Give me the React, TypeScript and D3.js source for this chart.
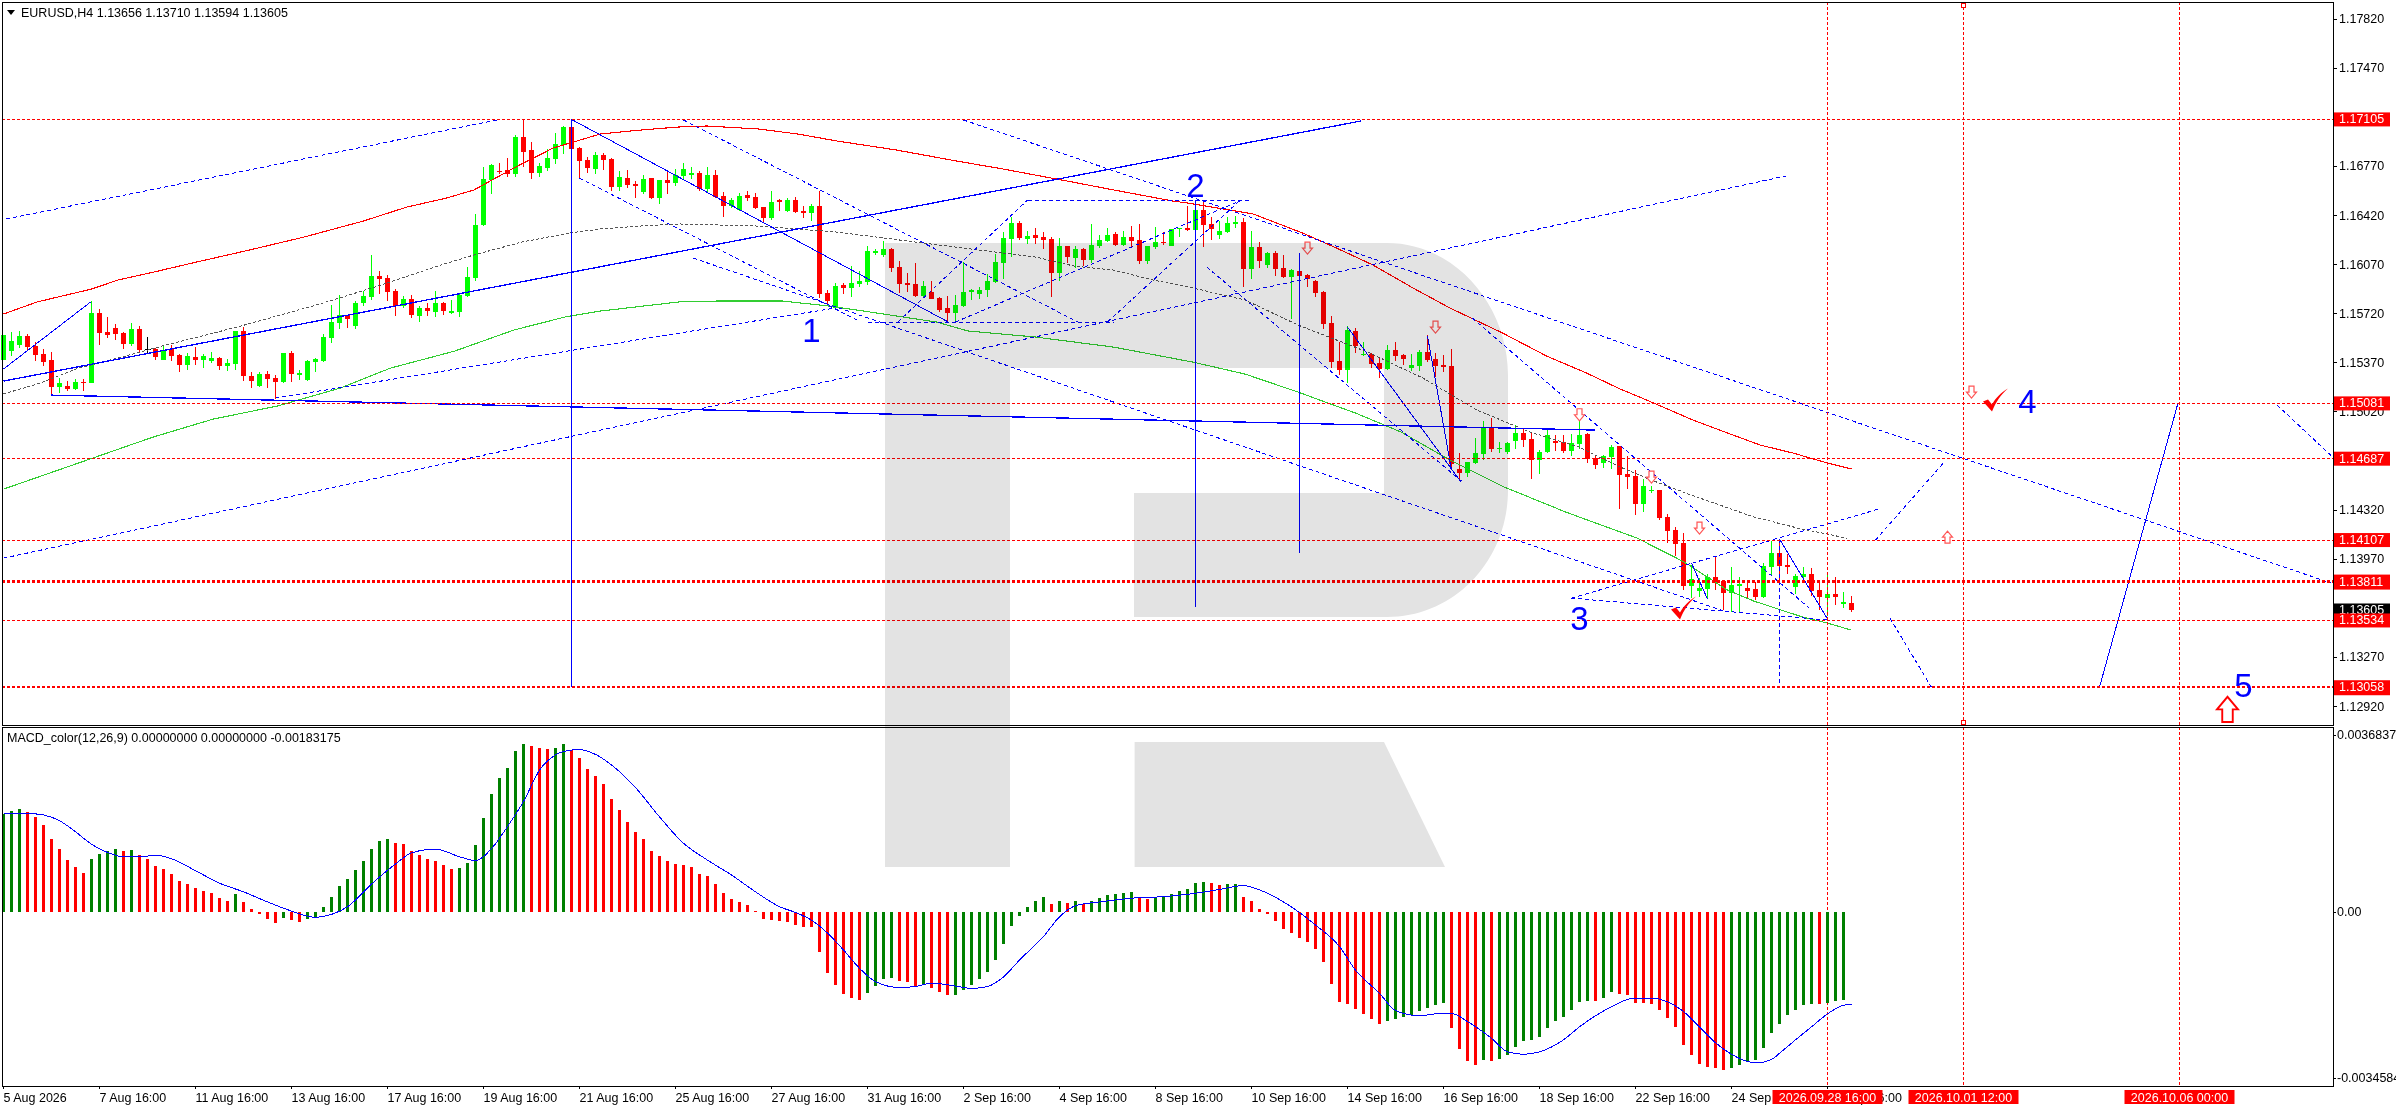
import { line, scaleLinear, curveMonotoneX } from 'd3';

const WIDTH = 2396;
const HEIGHT = 1110;
const LEFT = 2;
const RIGHT = 2333;
const PRICE_BOTTOM = 725;
const MACD_TOP = 727;
const MACD_BOTTOM = 1086;
const UI_FONT = '"Liberation Sans", Arial, sans-serif';
const RED = '#ff0000';
const LIME = '#00ff00';
const BLUE = '#0000ff';
const DARK_GREEN = '#008000';
const LABEL_RED = '#ff0000';

// EURUSD H4 candles, all prices in points (1 point = 0.00001)
const opens = [
  115390,115454,115497,115561,115490,115432,115390,115198,115205,115183,
  115233,115226,115725,115589,115618,115582,115504,115611,115465,115468,
  115390,115468,115425,115354,115411,115390,115383,115404,115347,115361,
  115597,115276,115205,115290,115262,115233,115440,115283,115247,115375,
  115383,115547,115654,115711,115632,115796,115839,115989,115974,115882,
  115775,115825,115704,115761,115732,115796,115725,115732,115846,115974,
  116352,116673,116737,116744,116716,116979,116887,116723,116759,116823,
  116922,117051,116901,116816,116751,116851,116823,116623,116687,116645,
  116588,116687,116545,116673,116652,116702,116709,116723,116609,116709,
  116559,116488,116459,116566,116552,116480,116402,116530,116452,116530,
  116452,116438,116488,115868,115761,115924,115903,115932,115946,116153,
  116139,116181,116053,115939,115932,115846,115875,115832,115761,115725,
  115775,115875,115861,115889,115946,116082,116252,116367,116252,116281,
  116267,116252,116010,116202,116117,116181,116103,116202,116238,116288,
  116210,116267,116245,116096,116195,116231,116202,116324,116331,116317,
  116459,116360,116281,116302,116360,116374,116038,116195,116067,116153,
  116046,115981,116024,115996,115953,115875,115654,115383,115319,115597,
  115425,115432,115368,115326,115461,115425,115333,115347,115447,115397,
  115354,115347,114613,114584,114656,114720,114913,114756,114734,114813,
  114870,114827,114677,114734,114813,114806,114741,114791,114863,114692,
  114656,114699,114777,114577,114563,114363,114456,114463,114271,114178,
  114086,113779,113743,113757,113843,113815,113729,113779,113765,113757,
  113700,113914,114014,113929,113772,113843,113865,113750,113693,113722,
  113651,113656,
];
const highs = [
  115568,115590,115597,115575,115518,115468,115447,115262,115240,115254,
  115254,115811,115753,115697,115647,115589,115654,115632,115554,115475,
  115497,115497,115432,115440,115482,115432,115447,115411,115397,115597,
  115625,115304,115304,115311,115283,115440,115454,115319,115390,115404,
  115575,115782,115854,115711,115811,115882,116139,116024,115996,115896,
  115846,115854,115775,115796,115882,115804,115818,115868,116053,116431,
  116766,116787,116794,116830,116994,117101,116944,116794,116894,117008,
  117058,117101,116908,116837,116873,116866,116830,116737,116744,116666,
  116709,116687,116673,116737,116751,116794,116766,116737,116766,116744,
  116588,116545,116580,116595,116580,116480,116595,116538,116545,116552,
  116488,116502,116595,115889,115939,115939,116060,116024,116202,116181,
  116238,116188,116096,116010,116082,115953,115953,115839,115846,115854,
  116089,115896,115910,116003,116146,116302,116409,116381,116309,116331,
  116302,116267,116260,116202,116202,116188,116360,116281,116331,116302,
  116309,116345,116360,116202,116338,116302,116324,116331,116488,116530,
  116516,116409,116381,116409,116416,116402,116309,116231,116160,116167,
  116139,116038,116024,116003,115960,115882,115704,115518,115632,115618,
  115518,115440,115411,115497,115518,115432,115432,115461,115568,115440,
  115425,115468,114727,114663,114834,114955,114976,114806,114806,114927,
  114905,114870,114748,114905,114855,114855,114863,114955,114870,114706,
  114713,114784,114777,114706,114606,114541,114492,114463,114292,114200,
  114157,113929,113836,113865,113993,113822,113914,113843,113800,113808,
  113943,114100,114107,114007,113865,113914,113907,113808,113879,113843,
  113736,113710,
];
const lows = [
  115390,115418,115475,115454,115383,115347,115140,115155,115169,115176,
  115169,115226,115497,115547,115532,115468,115490,115447,115440,115390,
  115390,115383,115304,115319,115354,115333,115368,115319,115311,115319,
  115240,115190,115198,115190,115112,115226,115233,115247,115240,115304,
  115375,115511,115611,115618,115611,115775,115818,115861,115811,115704,
  115761,115689,115661,115704,115697,115711,115718,115697,115839,115953,
  116345,116573,116716,116695,116695,116766,116680,116695,116737,116787,
  116858,116894,116680,116723,116716,116744,116595,116595,116616,116545,
  116573,116538,116502,116573,116630,116680,116680,116595,116588,116545,
  116409,116473,116452,116523,116466,116367,116388,116452,116445,116438,
  116402,116381,115832,115775,115754,115861,115839,115910,115924,116139,
  116124,116017,115868,115875,115839,115839,115825,115732,115661,115668,
  115768,115818,115825,115839,115939,115967,116124,116245,116217,116217,
  116181,115839,115953,116082,116046,116060,116082,116188,116231,116202,
  116202,116195,116074,116074,116181,116210,116202,116267,116309,116317,
  116195,116245,116252,116295,116331,115910,115967,116046,116046,115989,
  115974,115682,115989,115910,115839,115611,115333,115283,115226,115440,
  115418,115333,115262,115319,115383,115354,115311,115311,115375,115269,
  115304,114606,114534,114556,114649,114677,114734,114727,114720,114756,
  114770,114542,114577,114727,114741,114727,114706,114756,114656,114613,
  114620,114613,114328,114470,114285,114306,114442,114249,114086,113993,
  113750,113693,113700,113686,113750,113608,113594,113587,113686,113679,
  113693,113857,113808,113865,113722,113800,113707,113608,113565,113644,
  113622,113594,
];
const closes = [
  115568,115525,115561,115482,115425,115375,115198,115226,115183,115233,
  115226,115725,115582,115568,115575,115504,115611,115461,115465,115411,
  115454,115418,115354,115418,115390,115418,115404,115347,115368,115597,
  115276,115240,115290,115254,115233,115440,115290,115297,115383,115397,
  115554,115661,115711,115682,115796,115846,115989,115967,115875,115775,
  115825,115711,115761,115739,115796,115739,115739,115854,115981,116352,
  116680,116780,116730,116716,116979,116873,116723,116773,116830,116930,
  117051,116894,116809,116759,116851,116816,116623,116695,116638,116630,
  116680,116545,116673,116652,116709,116751,116723,116609,116709,116552,
  116488,116530,116559,116545,116473,116402,116516,116516,116530,116445,
  116438,116488,115861,115811,115918,115903,115939,115953,116167,116167,
  116181,116046,115932,115924,115846,115918,115825,115746,115725,115782,
  115875,115889,115889,115953,116089,116260,116367,116260,116274,116260,
  116245,116010,116202,116124,116181,116103,116210,116245,116281,116210,
  116267,116238,116096,116202,116231,116224,116324,116331,116317,116459,
  116352,116324,116309,116367,116374,116038,116195,116096,116153,116038,
  115981,116031,115989,115967,115868,115647,115375,115319,115604,115490,
  115432,115361,115326,115461,115418,115397,115354,115447,115390,115347,
  115340,114649,114584,114663,114727,114913,114756,114763,114798,114870,
  114820,114677,114734,114855,114798,114741,114798,114855,114684,114642,
  114706,114770,114570,114556,114363,114492,114463,114263,114171,114078,
  113779,113829,113765,113843,113808,113729,113786,113793,113743,113700,
  113921,114014,113921,113914,113850,113865,113743,113700,113722,113700,
  113665,113605,
];

// MACD histogram per bar, 1 unit = 0.00001; colour comes from rising / falling
const macdHist = [
  205,210,214,208,198,181,152,131,108,94,
  81,110,121,127,131,127,129,119,110,96,
  89,79,64,58,50,44,40,29,23,37,
  21,6,-4,-15,-23,-12,-17,-21,-15,-10,
  10,31,54,69,87,106,131,148,152,144,
  141,127,119,110,106,98,89,92,102,139,
  196,245,279,300,335,350,345,341,339,341,
  350,337,320,298,283,266,235,212,187,166,
  152,127,117,106,100,98,94,79,75,58,
  40,27,21,15,2,-15,-17,-19,-21,-27,
  -31,-32,-83,-127,-152,-171,-179,-183,-169,-154,
  -139,-137,-144,-146,-154,-152,-158,-166,-173,-172,
  -162,-152,-139,-125,-100,-67,-29,-8,10,23,
  31,17,23,19,23,17,23,29,35,37,
  40,42,29,27,31,32,37,44,48,60,
  62,60,56,58,59,31,23,6,-4,-19,
  -35,-44,-54,-62,-77,-104,-150,-187,-191,-202,
  -212,-223,-233,-227,-223,-218,-214,-206,-200,-193,
  -189,-241,-285,-310,-318,-308,-310,-306,-298,-281,
  -268,-267,-260,-241,-227,-218,-204,-187,-185,-186,
  -179,-166,-171,-173,-189,-190,-191,-204,-221,-239,
  -277,-298,-316,-322,-325,-329,-325,-318,-312,-308,
  -283,-252,-233,-214,-204,-193,-191,-192,-189,-185,
  -184,0,
];
const signalBars = [
  0,3,5,7,9,11,13,15,17,19,21,24,27,30,33,36,39,41,43,46,49,51,54,57,59,61,63,65,67,69,71,72,74,76,79,82,85,88,91,94,97,
  99,101,103,105,107,109,112,114,116,119,121,123,125,127,130,132,134,137,139,142,144,147,149,152,155,157,160,162,164,167,
  169,172,174,177,179,181,183,186,188,190,192,195,197,199,201,203,204,206,208,210,212,214,216,218,219,221,222,224,226,228,230,231,
];
const signalValues = [
  205,205,202,190,167,141,124,115,115,118,111,86,60,42,21,2,-11,-5,11,58,100,123,131,115,107,132,178,230,295,327,337,338,328,306,259,198,143,108,77,42,11,
  -1,-17,-44,-79,-117,-145,-157,-155,-148,-154,-159,-155,-135,-100,-51,-10,13,21,25,30,31,35,39,47,55,46,21,-1,-27,-72,
  -121,-169,-205,-216,-212,-211,-228,-263,-291,-296,-291,-266,-239,-216,-197,-182,-179,-179,-187,-207,-239,-272,-296,-311,-314,-307,-294,-266,-239,-212,-194,-192,
];

// moving averages as [bar, points]
const redAverage: [number, number][] = [
  [0,115718],[4.2,115804],[11,115896],[14.3,115960],[19.3,116024],[24.7,116096],[30.2,116167],[37.6,116267],[45,116381],[50.4,116480],
  [55.4,116545],[58.8,116602],[63.8,116759],[68.7,116901],[74.6,117001],[79.6,117029],[84.4,117051],[87.9,117058],[94.3,117037],[99.3,117001],
  [104.2,116951],[111.6,116887],[119.1,116809],[125,116751],[132.3,116673],[138.8,116602],[146.2,116523],[148,116509],[156.2,116431],[162.4,116295],
  [166.9,116181],[171.2,116067],[176.2,115903],[180.8,115761],[187.4,115582],[192.9,115418],[197.9,115297],[202.1,115183],[205.4,115105],[211.2,114962],
  [215.5,114870],[219.6,114784],[223.7,114727],[228,114656],[231,114613],
];
const greenAverage: [number, number][] = [
  [0,114470],[18.7,114841],
  [26.2,114969],[34.2,115062],[42.1,115190],[48.4,115333],[56.4,115454],[63.8,115604],[70.2,115697],[74.6,115739],[84.4,115804],[89.4,115811],
  [97.3,115811],[103.2,115775],[109.2,115725],[116.6,115661],[120.6,115597],[129,115554],[138.8,115482],[148.7,115375],[155.2,115290],[161.8,115162],
  [169,115012],[174.7,114877],[180.8,114677],[187.6,114485],[195.3,114306],[204.2,114121],[210.1,113950],[215.5,113750],[218.8,113672],[224.9,113558],
  [228,113515],[231,113465],
];
const grayAverage: [number, number][] = [
  [0,115148],[4.6,115226],[9.4,115333],[14.3,115404],[20.3,115497],[29.2,115625],[39.1,115782],[46.4,115910],[53.9,116053],[58.8,116139],
  [64.8,116231],[70.7,116295],[74.6,116324],[79.6,116345],[84.4,116360],[94.3,116345],[104.2,116302],[114,116231],[123.9,116160],[129,116124],
  [133.8,116060],[138.8,116031],[143.7,115960],[148.7,115903],[155.2,115818],[161.8,115640],[170.8,115440],[177.4,115262],[184.2,115033],[190.8,114877],
  [196.9,114770],[202.1,114627],[206,114534],[211,114427],[218.8,114271],[224.3,114192],[230.4,114121],
];

// trend lines as bar1, points1, bar2, points2
const thickTrends = [
  [0,115240,169.7,117094],
  [6,115140,198.9,114891],
];
const thinTrends = [
  [71,117105,71,113058],
  [0,115326,10.9,115804],
  [71,117105,118.1,115661],
  [162,116153,162,114014],
  [149,116530,149,113629],
  [168,115625,182.2,114520],
  [178,115561,181,114606],
  [222,114114,228,113544],
  [211,113943,213,113686],
  [262,113058,271.8,115081],
];
const dashedTrends = [
  [0.3,116395,62,117105],
  [34,115119,104,115761],
  [0,113978,222.8,116702],
  [72,116687,106.7,115675],
  [85,117101,134.3,115661],
  [86.2,116117,215.4,113594],
  [108,115661,138.8,115661],
  [128,116530,156,116530],
  [111.8,115661,128,116530],
  [119,115661,154.8,116530],
  [138,115661,154.6,116530],
  [120,117101,291,113800],
  [150.4,116053,182.4,114520],
  [183.6,115689,226,113608],
  [222,114114,222,113058],
  [196,113693,234.4,114328],
  [196,113693,228,113537],
  [234,114107,242.7,114670],
  [235.8,113551,241,113058],
  [284.2,115069,291,114706],
];

const priceLevels = [117105, 115081, 114687, 114107, 113811, 113534, 113058];
const levelWeights = [1, 1, 1, 1, 3, 1, 2];
const lastPrice = 113605;
const priceTicks = [117820,117470,116770,116420,116070,115720,115370,115020,114320,113970,113270,112920];

const timeLabels = [
  '5 Aug 2026','7 Aug 16:00','11 Aug 16:00','13 Aug 16:00','17 Aug 16:00','19 Aug 16:00','21 Aug 16:00','25 Aug 16:00',
  '27 Aug 16:00','31 Aug 16:00','2 Sep 16:00','4 Sep 16:00','8 Sep 16:00','10 Sep 16:00','14 Sep 16:00','16 Sep 16:00',
  '18 Sep 16:00','22 Sep 16:00','24 Sep 16:00','28 Sep 16:00',
];
const timeLabelStep = 12;
const timeMarkerBars = [228, 245, 272];
const timeMarkerLabels = ['2026.09.28 16:00', '2026.10.01 12:00', '2026.10.06 00:00'];

const waveLabels = ['1', '2', '3', '4', '5'];
const waveBars = [101, 149, 197, 253, 280];
const wavePrices = [115604, 116637, 113551, 115097, 113072];
const checkBars = [210, 249];
const checkPrices = [113622, 115105];
const downArrowBars = [163, 179, 197, 206, 212, 246];
const downArrowPrices = [116188, 115625, 115000, 114556, 114192, 115161];
const upArrowBars = [243];
const upArrowPrices = [114128];
const bigUpArrowBars = [278];
const bigUpArrowPrices = [112900];

const macdTicks = [0.0036837, 0, -0.0034584];
const macdTickText = ['0.0036837', '0.00', '-0.0034584'];

const x = scaleLinear().domain([0, 291]).range([3.5, 3.5 + 8 * 291]);
const y = scaleLinear().domain([117820, 112920]).range([19.1, 706.6]);
const macdY = scaleLinear().domain([0.0036837, -0.0034584]).range([735, 1078.2]);

const priceLine = line<[number, number]>().x(d => x(d[0])).y(d => y(d[1]));
const signalLine = line<number>()
  .x((_, i) => x(signalBars[i]))
  .y(d => macdY(d / 1e5))
  .curve(curveMonotoneX);

const fmt = (p: number) => (p / 1e5).toFixed(5);

const DOWN_ARROW = 'M-2.5,-6H2.5V0H5L0,6L-5,0H-2.5Z';
const UP_ARROW = 'M-2.5,6H2.5V0H5L0,-6L-5,0H-2.5Z';
const CHECK = 'M-12.5,1.5L-7.5,-0.5L-3.5,4.5C0.5,-2.5,5.5,-7.5,12.5,-11.5C5.5,-5.5,0.5,1.5,-3.5,11.5Z';

function Trend({ t, ...rest }: any) {
  return <line x1={x(t[0])} y1={y(t[1])} x2={x(t[2])} y2={y(t[3])} {...rest} />;
}

export default function App() {
  return (
    <svg width={WIDTH} height={HEIGHT} style={{ position: 'absolute', left: 0, top: 0, display: 'block' }}>
      <rect width={WIDTH} height={HEIGHT} fill="#fff" />

      <g shapeRendering="crispEdges">
        {/* candles */}
        {opens.map((o, i) => {
          const c = closes[i];
          const color = c > o ? LIME : c < o ? RED : '#000';
          const top = y(Math.max(o, c));
          const bottom = y(Math.min(o, c));
          return (
            <g key={i}>
              <line x1={x(i)} x2={x(i)} y1={y(highs[i])} y2={y(lows[i])} stroke={color} />
              {c === o
                ? <line x1={x(i) - 3} x2={x(i) + 3} y1={top} y2={top} stroke={color} />
                : <rect x={x(i) - 2.5} y={top} width={5} height={Math.max(bottom - top, 1)} fill={color} />}
            </g>
          );
        })}

        {/* moving averages */}
        <path d={priceLine(redAverage) ?? ''} fill="none" stroke={RED} strokeWidth={1.1} />
        <path d={priceLine(greenAverage) ?? ''} fill="none" stroke="#32cd32" strokeWidth={1.1} />
        <path d={priceLine(grayAverage) ?? ''} fill="none" stroke="#555" strokeDasharray="3 2" />

        {/* drawn objects */}
        {thickTrends.map((t, i) => <Trend key={i} t={t} stroke={BLUE} strokeWidth={1.3} />)}
        {thinTrends.map((t, i) => <Trend key={i} t={t} stroke={BLUE} />)}
        {dashedTrends.map((t, i) => <Trend key={i} t={t} stroke={BLUE} strokeDasharray="4 3" />)}

        {priceLevels.map((l, i) => (
          <line
            key={l}
            x1={LEFT} x2={RIGHT}
            y1={y(l)} y2={y(l)}
            stroke={RED}
            strokeWidth={levelWeights[i]}
            strokeDasharray="3 2"
          />
        ))}
        {timeMarkerBars.map(b => (
          <line key={b} x1={x(b)} x2={x(b)} y1={2} y2={MACD_BOTTOM} stroke={RED} strokeDasharray="3 2" />
        ))}

        {/* MACD */}
        {macdHist.map((v, i) => {
          if (v === 0) return null;
          const rising = i === 0 || v > macdHist[i - 1];
          const y0 = macdY(0);
          const y1 = macdY(v / 1e5);
          return (
            <rect
              key={i}
              x={x(i) - 1.5}
              y={Math.min(y0, y1)}
              width={3}
              height={Math.abs(y1 - y0)}
              fill={rising ? DARK_GREEN : RED}
            />
          );
        })}
        <path d={signalLine(signalValues) ?? ''} fill="none" stroke={BLUE} />
      </g>

      {/* markers */}
      {downArrowBars.map((b, i) => (
        <path key={b} d={DOWN_ARROW} transform={`translate(${x(b)},${y(downArrowPrices[i])})`} fill="#fff" stroke="#f55" strokeWidth={1.2} />
      ))}
      {upArrowBars.map((b, i) => (
        <path key={b} d={UP_ARROW} transform={`translate(${x(b)},${y(upArrowPrices[i])})`} fill="#fff" stroke="#f55" strokeWidth={1.2} />
      ))}
      {bigUpArrowBars.map((b, i) => (
        <path key={b} d={UP_ARROW} transform={`translate(${x(b)},${y(bigUpArrowPrices[i])}) scale(2.1)`} fill="#fff" stroke={RED} strokeWidth={0.9} />
      ))}
      {checkBars.map((b, i) => (
        <path key={b} d={CHECK} transform={`translate(${x(b)},${y(checkPrices[i])})`} fill={RED} />
      ))}
      {waveLabels.map((t, i) => (
        <text key={t} x={x(waveBars[i])} y={y(wavePrices[i])} textAnchor="middle" dominantBaseline="central" fontFamily={UI_FONT} fontSize={33} fill={BLUE}>{t}</text>
      ))}

      {/* watermark sits over everything in the price window */}
      <g fill="#e3e3e3" style={{ mixBlendMode: 'multiply' }}>
        <path d="M885,243H1387C1455,243 1508,305 1508,375V490C1508,560 1455,617 1387,617H1134V493H1384V368H1010V867H885Z" />
        <path d="M1134.6,742H1384L1445,867H1134.6Z" />
      </g>

      {/* frames */}
      <g fill="none" stroke="#000" shapeRendering="crispEdges">
        <rect x={LEFT} y={2} width={RIGHT - LEFT} height={PRICE_BOTTOM - 2} />
        <rect x={LEFT} y={MACD_TOP} width={RIGHT - LEFT} height={MACD_BOTTOM - MACD_TOP} />
      </g>
      <g fill="#fff" stroke={RED} shapeRendering="crispEdges">
        <rect x={x(245) - 2} y={3} width={4} height={4} />
        <rect x={x(245) - 2} y={720} width={4} height={4} />
      </g>

      {/* price axis */}
      <g fontFamily={UI_FONT} fontSize={12.5} fill="#000">
        {priceTicks.map(t => (
          <g key={t}>
            <line x1={RIGHT} x2={RIGHT + 4} y1={y(t)} y2={y(t)} stroke="#000" shapeRendering="crispEdges" />
            <text x={2339} y={y(t)} dominantBaseline="central">{fmt(t)}</text>
          </g>
        ))}
        <rect x={2334} y={y(lastPrice) - 7} width={56} height={14} fill="#000" />
        <text x={2339} y={y(lastPrice)} dominantBaseline="central" fill="#fff">{fmt(lastPrice)}</text>
        {priceLevels.map((l, i) => (
          <g key={l}>
            <rect x={2334} y={y(l) - 7} width={56} height={levelWeights[i] > 1 ? 15 : 14} fill={LABEL_RED} />
            <text x={2339} y={y(l)} dominantBaseline="central" fill="#fff">{fmt(l)}</text>
          </g>
        ))}
      </g>

      {/* MACD axis */}
      <g fontFamily={UI_FONT} fontSize={12.5} fill="#000">
        {macdTicks.map((t, i) => (
          <g key={t}>
            <line x1={RIGHT} x2={RIGHT + 3} y1={macdY(t)} y2={macdY(t)} stroke="#000" shapeRendering="crispEdges" />
            <text x={2337} y={macdY(t)} dominantBaseline="central">{macdTickText[i]}</text>
          </g>
        ))}
      </g>

      {/* time axis */}
      <g fontFamily={UI_FONT} fontSize={12.5} fill="#000">
        {timeLabels.map((t, i) => (
          <g key={t}>
            <line x1={x(i * timeLabelStep)} x2={x(i * timeLabelStep)} y1={MACD_BOTTOM} y2={MACD_BOTTOM + 3} stroke="#000" shapeRendering="crispEdges" />
            <text x={x(i * timeLabelStep)} y={1097.5} dominantBaseline="central">{t}</text>
          </g>
        ))}
        {timeMarkerBars.map((b, i) => (
          <g key={b}>
            <rect x={x(b) - 55} y={1090} width={110} height={14} fill={LABEL_RED} />
            <text x={x(b)} y={1097.5} textAnchor="middle" dominantBaseline="central" fill="#fff">{timeMarkerLabels[i]}</text>
          </g>
        ))}
      </g>

      {/* window captions */}
      <path d="M7,10H15L11,15Z" fill="#000" />
      <text x={21} y={12.5} dominantBaseline="central" fontFamily={UI_FONT} fontSize={12.5}>EURUSD,H4  1.13656 1.13710 1.13594 1.13605</text>
      <text x={7} y={737.5} dominantBaseline="central" fontFamily={UI_FONT} fontSize={12.5}>MACD_color(12,26,9) 0.00000000 0.00000000 -0.00183175</text>
    </svg>
  );
}
